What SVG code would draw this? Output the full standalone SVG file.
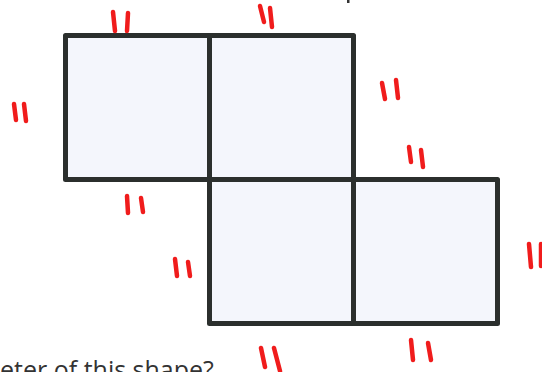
<svg xmlns="http://www.w3.org/2000/svg" width="542" height="372" viewBox="0 0 542 372">
<style>
.sq{fill:#f4f6fc;stroke:#2b2f2d;stroke-width:5;stroke-linejoin:round}
.tk{fill:none;stroke:#f01c1c;stroke-width:4.5;stroke-linecap:round}
.q{font-family:"Open Sans","Liberation Sans",sans-serif;font-size:25px;fill:#333333}
</style>
<rect width="542" height="372" fill="#ffffff"/>
<g id="square-top-left"><rect class="sq" x="65.5" y="35.5" width="144" height="144"/></g>
<g id="square-top-right"><rect class="sq" x="209.5" y="35.5" width="144" height="144"/></g>
<g id="square-bottom-middle"><rect class="sq" x="209.5" y="179.5" width="144" height="144"/></g>
<g id="square-bottom-right"><rect class="sq" x="353.5" y="179.5" width="144" height="144"/></g>
<g id="connectors"></g>
<g id="marks">
<path class="tk" d="M113 12 L115 31 M128 13 L127 31"/>
<path class="tk" d="M260 6 L264 22 M270 8 L272 27"/>
<path class="tk" d="M14 104 L16 120 M24 104 L26 121"/>
<path class="tk" d="M382 83 L385 99 M396 80 L398 98"/>
<path class="tk" d="M409 147 L411 162 M421 150 L423 167"/>
<path class="tk" d="M127 196 L128 213 M141 198 L143 212"/>
<path class="tk" d="M175 259 L177 276 M188 262 L190 276"/>
<path class="tk" d="M529 244 L531 267 M541 244 L541 266"/>
<path class="tk" d="M261 348 L265 367 M274 348 L280 371"/>
<path class="tk" d="M411 340 L413 360 M428 343 L431 360"/>
</g>
<rect x="347" y="0" width="2.5" height="3" fill="#333333"/>
<text class="q" x="0" y="379">eter of this shape?</text>
</svg>
